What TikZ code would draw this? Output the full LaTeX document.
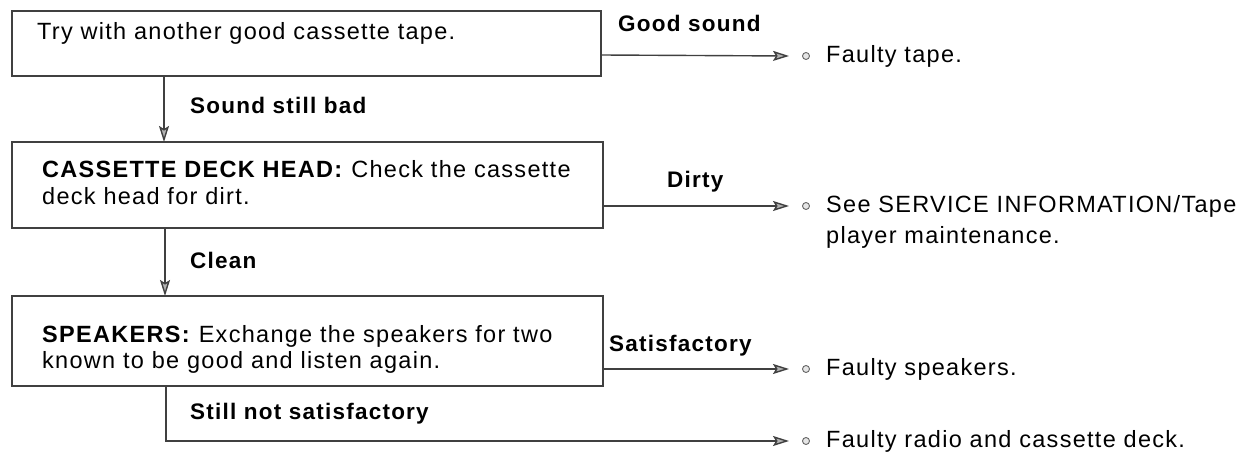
\documentclass[tikz,border=0pt]{standalone}
\usepackage{fontspec}
\setmainfont{Liberation Sans}[LetterSpace=5.5]
\usetikzlibrary{arrows.meta}
\begin{document}
\begin{tikzpicture}[x=1pt,y=-1pt,
  box/.style={draw=black!75,line width=1.4pt,inner sep=0pt},
  txt/.style={anchor=base west,inner sep=0pt,font=\fontsize{23.5}{27}\selectfont,align=left},
  lbl/.style={anchor=base west,inner sep=0pt,font=\fontsize{22.5}{26}\selectfont\bfseries},
  flow/.style={draw=black!75,line width=1.4pt,-{Stealth[length=16pt,width=10pt,inset=3pt,fill=black!30]}},
  dot/.style={circle,draw=black!60,fill=black!10,line width=0.9pt,minimum size=7pt,inner sep=0pt}]
\useasboundingbox (0,0) rectangle (1251,457);
% boxes
\draw[box] (12,11) rectangle (601,76);
\draw[box] (12,142) rectangle (603,228);
\draw[box] (12,296) rectangle (603,386);
\coordinate (b1r) at (601,55);
\coordinate (b2r) at (603,206);
\coordinate (b3r) at (603,369);
\coordinate (b1b) at (164,76);
\coordinate (b2t) at (164,142);
\coordinate (b2b) at (165,228);
\coordinate (b3t) at (165,296);
\coordinate (b3b) at (166,386);
\coordinate (corner) at (166,441);
% box texts
\node[txt] (t1) at (37,40) {Try with another good cassette tape.};
\node[txt] (t2a) at (42,178) {\textbf{CASSETTE DECK HEAD:} Check the cassette};
\node[txt] (t2b) at (42,205) {deck head for dirt.};
\node[txt] (t3a) at (42,342) {\textbf{SPEAKERS:} Exchange the speakers for two};
\node[txt] (t3b) at (42,368) {known to be good and listen again.};
% result dots
\node[dot] (d1) at (806,56) {};
\node[dot] (d2) at (806,206) {};
\node[dot] (d3) at (806,369) {};
\node[dot] (d4) at (806,441) {};
\node[txt,anchor=west] (r1) at (826,56) {Faulty tape.};
\node[txt,anchor=west] (r2) at (826,206) {See SERVICE INFORMATION/Tape};
\node[txt] (r2b) at (826,244) {player maintenance.};
\node[txt,anchor=west] (r3) at (826,369) {Faulty speakers.};
\node[txt,anchor=west] (r4) at (826,441) {Faulty radio and cassette deck.};
% connectors
\draw[flow] (b1r) -- ([xshift=-17pt]d1.center);
\draw[flow] (b2r) -- ([xshift=-17pt]d2.center);
\draw[flow] (b3r) -- ([xshift=-17pt]d3.center);
\draw[flow] (b1b) -- (b2t);
\draw[flow] (b2b) -- (b3t);
\draw[flow] (b3b) -- (corner) -- ([xshift=-17pt]d4.center);
% labels
\node[lbl] (l1) at (618,32) {Good sound};
\node[lbl] (l2) at (190,114) {Sound still bad};
\node[lbl] (l3) at (667,188) {Dirty};
\node[lbl] (l4) at (190,269) {Clean};
\node[lbl] (l5) at (609,351) {Satisfactory};
\node[lbl] (l6) at (190,419) {Still not satisfactory};
\end{tikzpicture}
\end{document}
